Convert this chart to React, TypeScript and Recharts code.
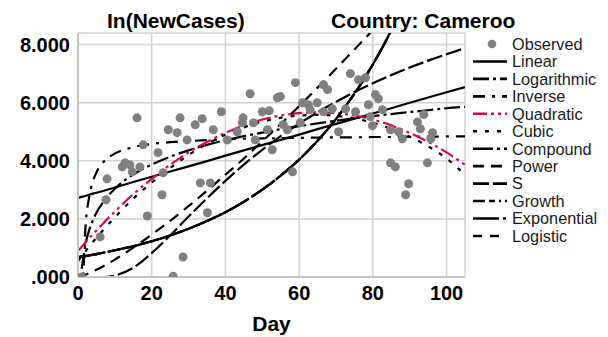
import { ComposedChart, Line, Scatter, XAxis, YAxis, CartesianGrid } from "recharts";

const FONT = '"Liberation Sans", Arial, sans-serif';
const BLACK = "#000000";
const RED = "#d40c3c";

// fitted curves at these days
const curveDays = [0, 1, 2, 3, 4, 5, 7, 10, 15, 20, 25, 30, 35, 40, 45, 50, 55, 60, 65, 70, 75, 80, 85, 90, 95, 100, 105];
const linear = [2.72, 2.76, 2.79, 2.83, 2.87, 2.9, 2.97, 3.08, 3.27, 3.45, 3.63, 3.81, 3.99, 4.18, 4.36, 4.54, 4.72, 4.9, 5.09, 5.27, 5.45, 5.63, 5.81, 6.0, 6.18, 6.36, 6.54];
const logarithmic = [null, 0.28, 1.11, 1.6, 1.94, 2.21, 2.61, 3.04, 3.53, 3.87, 4.14, 4.36, 4.55, 4.71, 4.85, 4.97, 5.09, 5.19, 5.29, 5.38, 5.46, 5.54, 5.61, 5.68, 5.74, 5.81, 5.86];
const inverse = [null, -1.6, 1.65, 2.73, 3.28, 3.6, 3.97, 4.25, 4.47, 4.58, 4.64, 4.68, 4.71, 4.74, 4.76, 4.77, 4.78, 4.79, 4.8, 4.81, 4.81, 4.82, 4.82, 4.83, 4.83, 4.84, 4.84];
const quadratic = [0.9, 1.04, 1.19, 1.33, 1.47, 1.6, 1.87, 2.25, 2.85, 3.38, 3.86, 4.29, 4.65, 4.96, 5.22, 5.42, 5.56, 5.64, 5.67, 5.64, 5.56, 5.42, 5.22, 4.96, 4.65, 4.29, 3.86];
const cubic = [0.55, 0.72, 0.88, 1.04, 1.2, 1.35, 1.64, 2.05, 2.7, 3.25, 3.75, 4.2, 4.58, 4.9, 5.15, 5.35, 5.48, 5.56, 5.58, 5.55, 5.46, 5.31, 5.1, 4.83, 4.5, 4.08, 3.52];
// compound, growth, exponential and logistic lie on top of each other
const expCurve = [0.68, 0.7, 0.72, 0.74, 0.77, 0.79, 0.84, 0.92, 1.06, 1.23, 1.43, 1.66, 1.93, 2.23, 2.59, 3.01, 3.49, 4.04, 4.69, 5.44, 6.31, 7.32, 8.49, 9.85, null, null, null];
const power = [0, 0.03, 0.08, 0.13, 0.19, 0.25, 0.38, 0.6, 1.01, 1.46, 1.93, 2.44, 2.97, 3.52, 4.08, 4.67, 5.27, 5.88, 6.52, 7.17, 7.83, 8.5, 9.17, null, null, null, null];
const sCurve = [0, 0, 0, 0, 0, 0, 0, 0.05, 0.32, 0.82, 1.43, 2.08, 2.71, 3.31, 3.87, 4.38, 4.85, 5.28, 5.67, 6.03, 6.37, 6.67, 6.95, 7.21, 7.45, 7.67, 7.88];

// observed ln(new cases)
const obsDay = [1, 6.0, 7.6, 7.9, 12.0, 12.8, 14.1, 14.7, 16.0, 16.8, 17.7, 18.8, 21.7, 22.8, 23.1, 24.5, 25.8, 26.9, 27.7, 28.5, 29.6, 31.8, 33.2, 33.7, 35.1, 35.9, 36.7, 38.9, 40.5, 43.2, 44.6, 44.8, 46.7, 47.6, 48.1, 50.0, 51.4, 51.9, 52.7, 54.1, 54.9, 55.7, 56.8, 58.2, 59.0, 60.3, 60.9, 62.5, 63.0, 64.9, 66.6, 66.6, 67.7, 69.0, 70.7, 72.6, 73.9, 75.3, 76.1, 78.0, 78.8, 79.3, 79.9, 80.7, 81.5, 82.6, 84.8, 84.8, 86.1, 87.0, 88.0, 88.9, 89.7, 92.1, 92.9, 93.8, 94.8, 95.7, 96.2];
const obsValue = [0.0, 1.38, 2.66, 3.38, 3.79, 3.93, 3.86, 3.62, 5.48, 3.79, 4.55, 2.1, 4.28, 2.83, 3.59, 5.07, 0.03, 4.97, 5.48, 0.69, 4.72, 5.24, 3.24, 5.45, 2.21, 3.24, 5.07, 5.69, 4.72, 5.0, 5.31, 5.48, 6.31, 5.31, 4.72, 5.69, 5.07, 5.72, 4.38, 6.17, 6.21, 5.24, 5.07, 3.62, 6.69, 5.31, 6.0, 5.93, 5.76, 6.0, 6.62, 5.69, 6.45, 5.79, 5.0, 5.79, 7.0, 5.69, 6.79, 6.86, 5.93, 5.52, 5.21, 6.28, 6.14, 5.76, 5.07, 3.93, 3.79, 5.0, 4.76, 2.83, 3.21, 5.34, 5.1, 5.59, 3.93, 4.76, 4.97];

const xTicks = [0, 20, 40, 60, 80, 100];
const yTicks = [0, 2, 4, 6, 8];

const curves = [
  { key: "linear", name: "Linear", values: linear, color: BLACK, dash: undefined, type: "linear" },
  { key: "logarithmic", name: "Logarithmic", values: logarithmic, color: BLACK, dash: "16 4 3 4", type: "monotone" },
  { key: "inverse", name: "Inverse", values: inverse, color: BLACK, dash: "12 7 3 7", type: "monotone" },
  { key: "quadratic", name: "Quadratic", values: quadratic, color: RED, dash: "14 4 3 4 3 4", type: "monotone" },
  { key: "cubic", name: "Cubic", values: cubic, color: BLACK, dash: "4 8", type: "monotone" },
  { key: "compound", name: "Compound", values: expCurve, color: BLACK, dash: "20 4 3 4", type: "monotone" },
  { key: "power", name: "Power", values: power, color: BLACK, dash: "11 7", type: "monotone" },
  { key: "s", name: "S", values: sCurve, color: BLACK, dash: "16 4", type: "monotone" },
  { key: "growth", name: "Growth", values: expCurve, color: BLACK, dash: "12 4 6 4 2 4", type: "monotone" },
  { key: "exponential", name: "Exponential", values: expCurve, color: BLACK, dash: "26 4 3 4", type: "monotone" },
  { key: "logistic", name: "Logistic", values: expCurve, color: BLACK, dash: "9 8", type: "monotone" },
];

const curveRows = curveDays.map((day, i) => {
  const row: Record<string, number | null> = { day };
  curves.forEach((c) => {
    row[c.key] = c.values[i];
  });
  return row;
});

const observedRows = obsDay.map((day, i) => ({ day, observed: obsValue[i] }));

const tickStyle = { fill: "#000", fontSize: 20, fontWeight: "bold", fontFamily: FONT };

function Dot(props: any) {
  return <circle cx={props.cx} cy={props.cy} r={4.5} fill="#808080" />;
}

function Overlay() {
  const rowY = (i: number) => 44 + i * 17.45;
  return (
    <svg
      width={608}
      height={337}
      style={{ position: "absolute", left: 0, top: 0, pointerEvents: "none" }}
    >
      <g fontFamily={FONT} fontWeight="bold" fontSize={21} fill="#000">
        <text x={107} y={28}>In(NewCases)</text>
        <text x={331} y={28}>Country: Cameroo</text>
        <text x={271.5} y={331} textAnchor="middle">Day</text>
      </g>
      <g fontFamily={FONT} fontSize={16.3} fill="#1a1a1a">
        <circle cx={492} cy={rowY(0)} r={4.3} fill="#808080" />
        <text x={512} y={rowY(0) + 5.8}>Observed</text>
        {curves.map((c, i) => (
          <g key={c.key}>
            <line
              x1={473}
              x2={507}
              y1={rowY(i + 1)}
              y2={rowY(i + 1)}
              stroke={c.color}
              strokeWidth={2.6}
              strokeDasharray={c.dash}
            />
            <text x={512} y={rowY(i + 1) + 5.8}>{c.name}</text>
          </g>
        ))}
      </g>
    </svg>
  );
}

export default function App() {
  return (
    <div style={{ position: "fixed", left: 0, top: 0, width: 608, height: 337, background: "#fff" }}>
      <ComposedChart
        width={608}
        height={337}
        data={curveRows}
        margin={{ top: 33, right: 143, bottom: 0, left: 0 }}
      >
        <CartesianGrid stroke="#d2d2d2" strokeWidth={1.5} />
        <XAxis
          type="number"
          dataKey="day"
          domain={[0, 105]}
          ticks={xTicks}
          height={60}
          tick={tickStyle}
          tickLine={false}
          tickMargin={3}
          axisLine={{ stroke: "#c4c4c4", strokeWidth: 2 }}
          allowDataOverflow
        />
        <YAxis
          type="number"
          domain={[0, 8.4]}
          ticks={yTicks}
          width={78}
          tick={tickStyle}
          tickLine={false}
          axisLine={{ stroke: "#c4c4c4", strokeWidth: 2 }}
          tickFormatter={(v: number) => (v === 0 ? ".000" : v.toFixed(3))}
          allowDataOverflow
        />
        <Scatter
          data={observedRows}
          dataKey="observed"
          shape={Dot}
          isAnimationActive={false}
        />
        {curves.map((c) => (
          <Line
            key={c.key}
            type={c.type as any}
            dataKey={c.key}
            stroke={c.color}
            strokeWidth={2.2}
            strokeDasharray={c.dash}
            dot={false}
            activeDot={false}
            isAnimationActive={false}
          />
        ))}
      </ComposedChart>
      <Overlay />
    </div>
  );
}
